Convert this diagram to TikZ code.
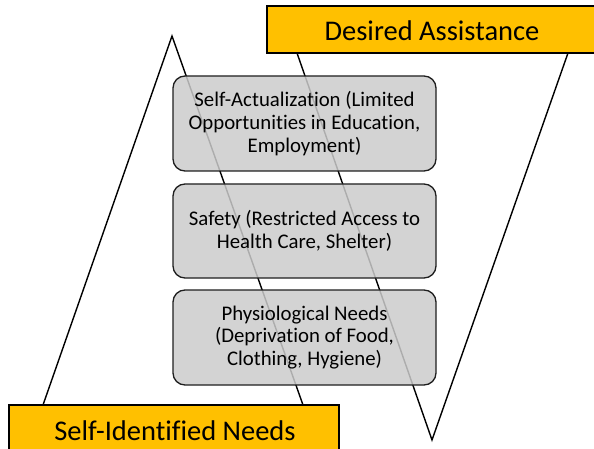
\documentclass[tikz,border=0pt]{standalone}
\usepackage{fontspec}
\setmainfont{Carlito}[Ligatures={NoCommon}]
\definecolor{gold}{HTML}{FFC000}
\definecolor{boxgray}{RGB}{203,203,203}
\definecolor{edge}{RGB}{30,30,30}
\tikzset{
  zig/.style={draw=black, line width=1.4pt, miter limit=20, line join=miter},
  banner/.style={draw=black, line width=1.4pt, fill=gold},
  bannertext/.style={font=\fontsize{28.5}{32}\selectfont, inner sep=0pt},
  needbox/.style={draw=edge, line width=1.3pt, fill=boxgray, fill opacity=0.85, text opacity=1,
    rounded corners=12pt, align=center, font=\fontsize{20.8}{22.8}\selectfont,
    minimum width=263pt, inner sep=0pt}
}
\begin{document}
\begin{tikzpicture}[x=1pt,y=-1pt]
\useasboundingbox (0,0) rectangle (594,449);
\clip (0,0) rectangle (594,449);
% zigzag coordinates
\coordinate (lf) at (43,405);
\coordinate (apex) at (172,36);
\coordinate (rf) at (303,405);
\coordinate (vl) at (297,53);
\coordinate (vb) at (432,440);
\coordinate (vr) at (568,53);
\draw[zig] (lf) -- (apex) -- (rf);
\draw[zig] (vl) -- (vb) -- (vr);
% banners
\draw[banner] (267,6) rectangle (610,53);
\node[bannertext] (da) at (432,31) {Desired Assistance};
\draw[banner] (9,405) rectangle (339,470);
\node[bannertext] (sin) at (175,431) {Self-Identified Needs};
% need boxes
\node[needbox, minimum height=95pt] (sa) at (304.5,123.5) {Self-Actualization (Limited\\Opportunities in Education,\\Employment)};
\node[needbox, minimum height=94pt] (sf) at (304.5,231) {Safety (Restricted Access to\\Health Care, Shelter)};
\node[needbox, minimum height=95pt] (ph) at (304.5,337.5) {Physiological Needs\\(Deprivation of Food,\\Clothing, Hygiene)};
\end{tikzpicture}
\end{document}
